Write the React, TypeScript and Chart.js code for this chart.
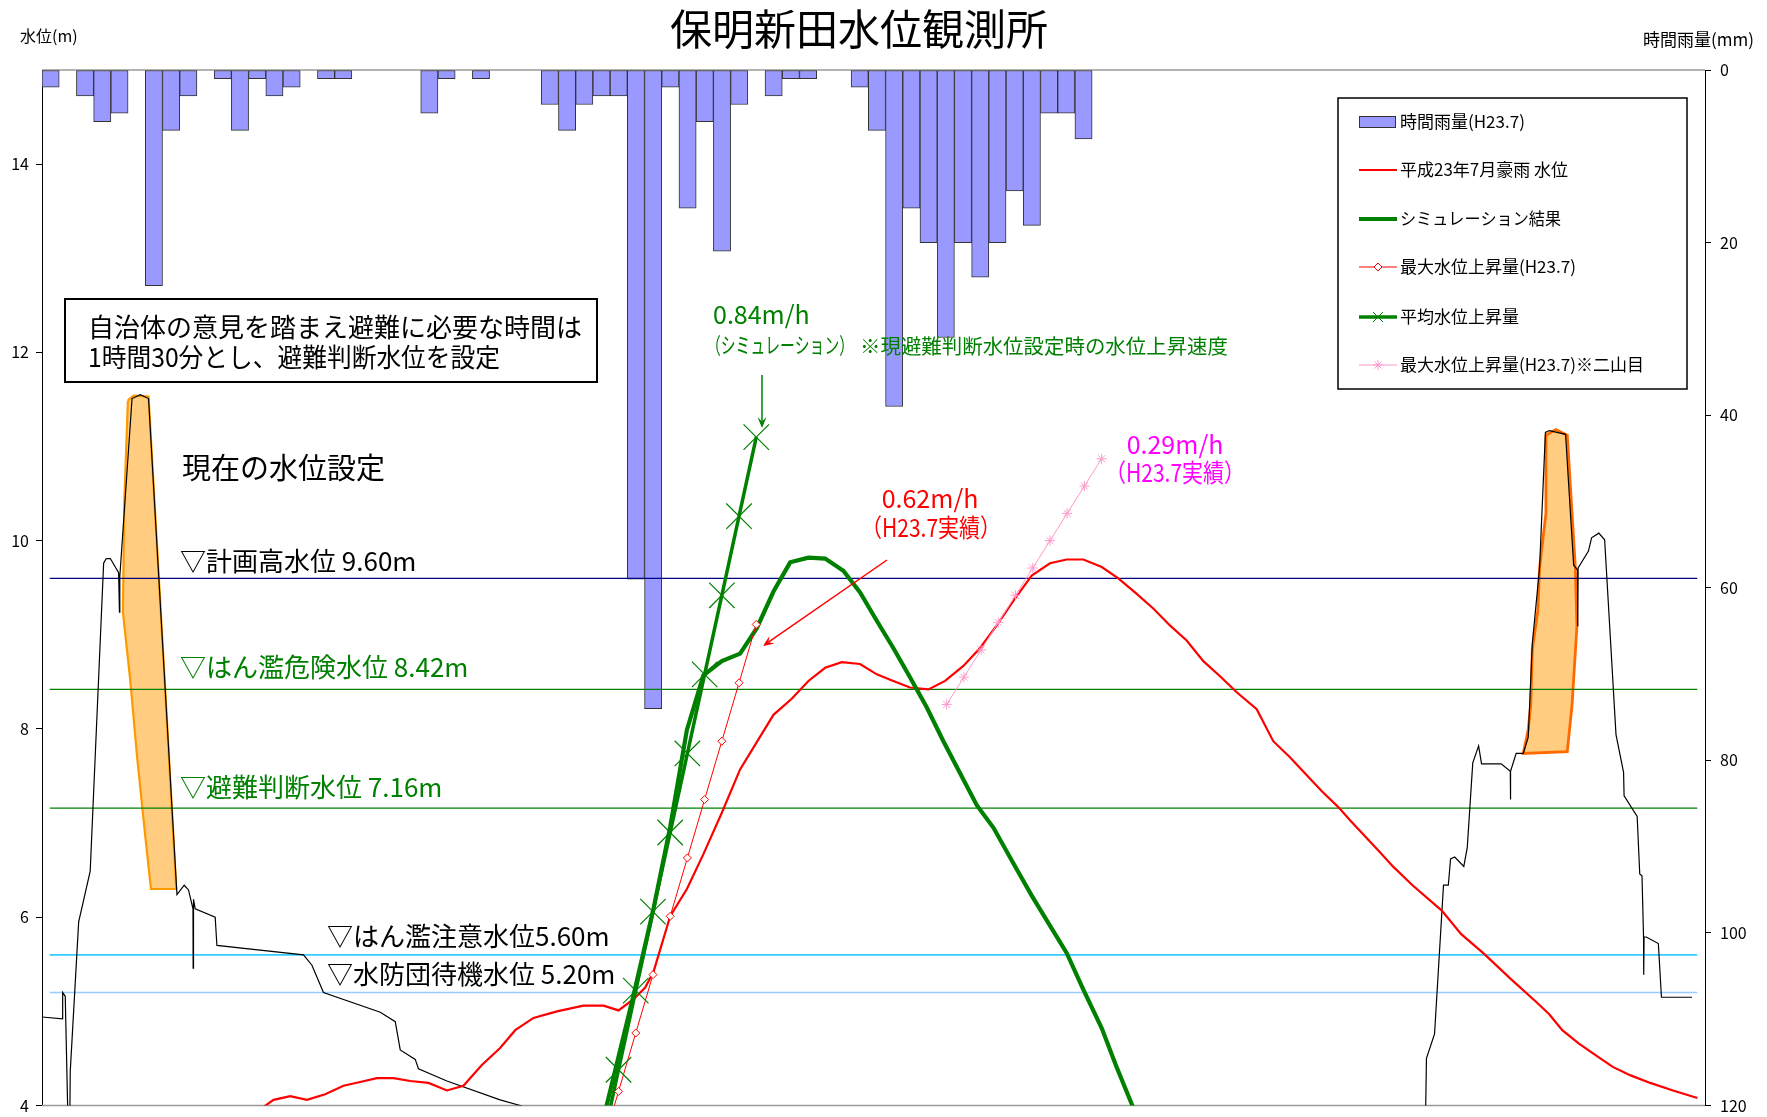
import React, { useEffect, useRef } from 'react';
import { Chart, registerables } from 'chart.js';
import { drawPoint } from 'chart.js/helpers';

Chart.register(...registerables);

const FONT = '"Noto Sans CJK JP", "Noto Sans", sans-serif';

// ---------------- data ----------------
// hourly rainfall (mm), one value per hour slot
const rainfall = [2, 0, 3, 6, 5, 0, 25, 7, 3, 0, 1, 7, 1, 3, 2, 0, 1, 1, 0, 0, 0, 0, 5, 1, 0, 1, 0, 0, 0, 4,
  7, 4, 3, 3, 59, 74, 2, 16, 6, 21, 4, 0, 3, 1, 1, 0, 0, 2, 7, 39, 16, 20, 31, 20, 24, 20, 14, 18, 5, 5, 8];

// 平成23年7月豪雨 水位
const levelX = [12.29, 13.45, 14.42, 15.39, 16.45, 17.51, 18.48, 19.45, 20.42, 21.39, 22.45, 23.52, 24.48, 25.55, 26.61, 27.49, 28.55, 29.91, 31.45, 32.62, 33.49,
  34.36, 35.03, 35.52, 36.49, 37.46, 38.42, 39.49, 40.55, 41.52, 42.49, 43.55, 44.52, 45.49, 46.46, 47.52, 48.49, 49.45, 50.42, 51.49, 52.46,
  53.52, 54.49, 55.46, 56.42, 57.49, 58.55, 59.52, 60.49, 61.56, 62.52, 63.49, 64.55, 65.52, 66.49, 67.46, 68.43, 69.40, 70.56, 71.52, 72.49,
  73.36, 74.33, 75.30, 75.98, 77.72, 78.47, 79.61, 81.31, 82.44, 83.77, 85.28, 86.80, 87.55, 88.31, 89.26, 90.20, 91.24, 92.28, 93.42, 94.74, 96.16];
const levelY = [3.91, 4.06, 4.10, 4.06, 4.12, 4.21, 4.25, 4.29, 4.29, 4.26, 4.24, 4.16, 4.21, 4.43, 4.61, 4.80, 4.93, 5.00, 5.06, 5.06, 5.01,
  5.13, 5.25, 5.42, 6.01, 6.30, 6.67, 7.11, 7.57, 7.86, 8.15, 8.32, 8.51, 8.65, 8.71, 8.69, 8.58, 8.51, 8.44, 8.42, 8.51,
  8.67, 8.86, 9.10, 9.36, 9.63, 9.76, 9.80, 9.80, 9.72, 9.60, 9.45, 9.28, 9.10, 8.94, 8.72, 8.56, 8.39, 8.21, 7.87, 7.70,
  7.53, 7.34, 7.17, 7.03, 6.69, 6.54, 6.34, 6.07, 5.82, 5.61, 5.35, 5.10, 4.97, 4.80, 4.66, 4.54, 4.41, 4.32, 4.24, 4.16, 4.08];

// シミュレーション結果
const simX = [32.65, 34.36, 35.52, 36.49, 37.46, 38.42, 39.49, 40.55, 41.52, 42.49, 43.46, 44.52, 45.49, 46.55, 47.52, 48.49,
  49.45, 50.42, 51.39, 52.36, 53.33, 54.30, 55.27, 56.43, 57.49, 58.55, 59.52, 60.49, 61.56, 62.42, 63.58];
const simY = [3.89, 5.17, 6.09, 6.96, 7.99, 8.57, 8.72, 8.80, 9.07, 9.46, 9.77, 9.82, 9.81, 9.68, 9.45, 9.15,
  8.86, 8.55, 8.23, 7.87, 7.53, 7.19, 6.95, 6.57, 6.23, 5.91, 5.62, 5.23, 4.82, 4.41, 3.89];

// 平均水位上昇量 (0.84m/h)
const avgRiseX = [32.49, 33.49, 34.49, 35.49, 36.49, 37.49, 38.49, 39.49, 40.49, 41.49];
const avgRiseY = [3.54, 4.38, 5.22, 6.06, 6.90, 7.74, 8.58, 9.42, 10.26, 11.10];

// 最大水位上昇量(H23.7) (0.62m/h)
const maxRiseX = [32.49, 33.49, 34.49, 35.49, 36.49, 37.49, 38.49, 39.49, 40.49, 41.49];
const maxRiseY = [3.53, 4.15, 4.77, 5.39, 6.01, 6.63, 7.25, 7.87, 8.49, 9.11];

// 最大水位上昇量(H23.7)※二山目 (0.29m/h)
const maxRise2X = [52.55, 53.55, 54.55, 55.55, 56.55, 57.55, 58.55, 59.55, 60.55, 61.55];
const maxRise2Y = [8.26, 8.55, 8.84, 9.13, 9.42, 9.71, 10.00, 10.29, 10.58, 10.87];

// river cross-section profile (left / right)
const leftBankX = [0, 1.20, 1.20, 1.35, 1.50, 1.62, 1.64, 2.13, 2.80, 3.58, 3.73, 3.97, 4.45, 4.50, 4.52, 5.23, 5.71, 6.19, 7.84, 8.26, 8.51, 8.77, 8.78, 8.80,
  8.90, 10.06, 10.16, 15.19, 15.68, 16.35, 19.65, 20.52, 20.81, 21.68, 21.87, 23.52, 26.61, 27.78, 28.5];
const leftBankY = [4.94, 4.92, 5.20, 5.16, 3.9, 3.9, 4.36, 5.95, 6.49, 9.76, 9.81, 9.81, 9.66, 9.24, 9.62, 11.51, 11.55, 11.51, 6.24, 6.34, 6.29, 6.09, 5.46, 6.19,
  6.09, 6.00, 5.70, 5.60, 5.49, 5.20, 4.99, 4.89, 4.59, 4.49, 4.39, 4.26, 4.06, 4.00, 3.95];
const rightBankX = [80.37, 80.42, 80.89, 81.41, 81.69, 81.82, 82.06, 82.59, 82.79, 83.11, 83.45, 83.62, 84.76, 85.29, 85.30, 85.31, 85.63, 86.04, 86.33, 86.57,
  86.99, 87.33, 87.56, 88.50, 88.97, 89.20, 89.21, 89.23, 89.83, 90.01, 90.43, 90.77, 91.43, 91.87, 91.90, 92.66, 92.81, 92.94, 93.03, 93.04, 93.06,
  93.19, 93.89, 94.07, 95.85];
const rightBankY = [3.9, 4.50, 4.76, 6.34, 6.34, 6.62, 6.64, 6.54, 6.74, 7.64, 7.82, 7.63, 7.63, 7.55, 7.25, 7.55, 7.74, 7.74, 7.91, 8.91,
  9.71, 11.15, 11.17, 11.13, 9.74, 9.69, 9.09, 9.71, 9.89, 10.03, 10.08, 10.01, 7.94, 7.54, 7.29, 7.07, 6.46, 6.44, 5.79, 5.39, 5.79,
  5.79, 5.72, 5.15, 5.15];

// levee shapes (closed outlines)
const leftLeveeX = [4.99, 5.32, 6.19, 6.52, 7.16, 7.80, 6.33, 6.00, 5.52, 5.13, 4.70, 4.78, 4.99];
const leftLeveeY = [11.49, 11.54, 11.53, 10.46, 8.41, 6.30, 6.30, 6.86, 7.71, 8.51, 9.24, 10.41, 11.49];
const rightLeveeX = [87.36, 87.93, 88.60, 89.07, 89.16, 88.88, 88.60, 86.04, 86.33, 86.48, 86.57, 86.89, 86.99, 87.36, 87.36];
const rightLeveeY = [11.12, 11.18, 11.12, 9.71, 9.09, 8.26, 7.76, 7.74, 7.99, 8.26, 8.84, 9.26, 9.71, 10.29, 11.12];

// reference water levels
const refLevels = [9.6, 8.42, 7.16, 5.6, 5.2];
const refLabels = ['▽計画高水位 9.60m', '▽はん濫危険水位 8.42m', '▽避難判断水位 7.16m', '▽はん濫注意水位5.60m', '▽水防団待機水位 5.20m'];
const refSpan = [0.45, 96.15];

const levelTicks = [4, 6, 8, 10, 12, 14];
const rainTicks = [0, 20, 40, 60, 80, 100, 120];

const legendLabels = ['時間雨量(H23.7)', '平成23年7月豪雨 水位', 'シミュレーション結果', '最大水位上昇量(H23.7)', '平均水位上昇量', '最大水位上昇量(H23.7)※二山目'];

// ---------------- helpers ----------------
const pts = (xs: number[], ys: number[]) => xs.map((x, i) => ({ x, y: ys[i] }));

const refColors = ['#000080', '#008000', '#008000', '#33CCFF', '#99CCFF'];
const refWidths = [1.2, 1.2, 1.2, 1.6, 1.6];
const refLabelPos = [
  { x: 180, y: 561, c: '#000000', w: 245 },
  { x: 180, y: 667, c: '#008000', w: 296 },
  { x: 180, y: 787, c: '#008000', w: 270 },
  { x: 327, y: 936, c: '#000000', w: 288 },
  { x: 327, y: 974, c: '#000000', w: 298 },
];

function text(ctx: CanvasRenderingContext2D, s: string, x: number, y: number, size: number, color: string, align: CanvasTextAlign = 'left', maxW?: number) {
  ctx.save();
  ctx.font = `${size}px ${FONT}`;
  ctx.fillStyle = color;
  ctx.textAlign = align;
  ctx.textBaseline = 'middle';
  if (maxW) ctx.fillText(s, x, y, maxW); else ctx.fillText(s, x, y);
  ctx.restore();
}

function arrow(ctx: CanvasRenderingContext2D, x1: number, y1: number, x2: number, y2: number, color: string, w: number) {
  const a = Math.atan2(y2 - y1, x2 - x1);
  const hl = 11, hw = 4.5;
  ctx.save();
  ctx.strokeStyle = color;
  ctx.fillStyle = color;
  ctx.lineWidth = w;
  ctx.beginPath();
  ctx.moveTo(x1, y1);
  ctx.lineTo(x2 - Math.cos(a) * hl * 0.6, y2 - Math.sin(a) * hl * 0.6);
  ctx.stroke();
  ctx.beginPath();
  ctx.moveTo(x2, y2);
  ctx.lineTo(x2 - Math.cos(a) * hl - Math.sin(a) * hw, y2 - Math.sin(a) * hl + Math.cos(a) * hw);
  ctx.lineTo(x2 - Math.cos(a) * hl * 0.6, y2 - Math.sin(a) * hl * 0.6);
  ctx.lineTo(x2 - Math.cos(a) * hl + Math.sin(a) * hw, y2 - Math.sin(a) * hl - Math.cos(a) * hw);
  ctx.closePath();
  ctx.fill();
  ctx.restore();
}

const framePlugin = {
  id: 'frame',
  beforeDatasetsDraw(chart: any) {
    const { ctx, chartArea: a } = chart;
    ctx.save();
    ctx.strokeStyle = '#9A9A9A';
    ctx.lineWidth = 1.5;
    ctx.beginPath();
    ctx.moveTo(a.left, a.top);
    ctx.lineTo(a.right, a.top);
    ctx.moveTo(a.left, a.bottom);
    ctx.lineTo(a.right, a.bottom);
    ctx.stroke();
    ctx.restore();
  },
  afterDraw(chart: any) {
    const ctx: CanvasRenderingContext2D = chart.ctx;
    // title & axis titles
    text(ctx, '保明新田水位観測所', 859, 29, 42, '#000', 'center');
    text(ctx, '水位(m)', 20, 36, 16, '#000', 'left', 62);
    text(ctx, '時間雨量(mm)', 1643, 40, 17, '#000', 'left', 114);

    // info box
    ctx.save();
    ctx.fillStyle = '#fff';
    ctx.fillRect(65, 299, 532, 83);
    ctx.strokeStyle = '#000';
    ctx.lineWidth = 2;
    ctx.strokeRect(65, 299, 532, 83);
    ctx.restore();
    text(ctx, '自治体の意見を踏まえ避難に必要な時間は', 88, 327, 26, '#000', 'left', 497);
    text(ctx, '1時間30分とし、避難判断水位を設定', 88, 357, 26, '#000', 'left', 412);

    text(ctx, '現在の水位設定', 182, 468, 29, '#000', 'left', 214);

    refLabels.forEach((s, i) => {
      const p = refLabelPos[i];
      text(ctx, s, p.x, p.y, 26, p.c, 'left', p.w);
    });

    // rise-rate annotations
    text(ctx, '0.84m/h', 713, 314, 25, '#008000', 'left');
    text(ctx, '（シミュレーション）', 706, 345, 22, '#008000', 'left', 148);
    text(ctx, '※現避難判断水位設定時の水位上昇速度', 860, 346, 20.5, '#008000', 'left', 368);
    arrow(ctx, 762, 375, 762, 428, '#008000', 1.5);

    text(ctx, '0.62m/h', 930, 498, 25, '#FF0000', 'center');
    text(ctx, '（H23.7実績）', 931, 527, 25, '#FF0000', 'center', 140);
    arrow(ctx, 887, 560, 763, 646, '#FF0000', 1.5);

    text(ctx, '0.29m/h', 1175, 444, 25, '#FF00FF', 'center');
    text(ctx, '（H23.7実績）', 1175, 472, 25, '#FF00FF', 'center', 140);

    // legend
    const lx = 1338, ly = 98, lw = 349, lh = 291;
    ctx.save();
    ctx.fillStyle = '#fff';
    ctx.fillRect(lx, ly, lw, lh);
    ctx.strokeStyle = '#000';
    ctx.lineWidth = 1.5;
    ctx.strokeRect(lx, ly, lw, lh);
    ctx.restore();
    const rowsY = [122, 170, 219, 267, 317, 365];
    const mx1 = 1359, mx2 = 1397, mc = 1378;
    const line = (y: number, color: string, w: number) => {
      ctx.save();
      ctx.strokeStyle = color;
      ctx.lineWidth = w;
      ctx.beginPath();
      ctx.moveTo(mx1, y);
      ctx.lineTo(mx2, y);
      ctx.stroke();
      ctx.restore();
    };
    // bar swatch
    ctx.save();
    ctx.fillStyle = '#9999FF';
    ctx.fillRect(mx1, rowsY[0] - 6, 36, 12);
    ctx.strokeStyle = '#333';
    ctx.lineWidth = 1;
    ctx.strokeRect(mx1 + 0.5, rowsY[0] - 5.5, 36, 11);
    ctx.restore();
    line(rowsY[1], '#FF0000', 2);
    line(rowsY[2], '#008000', 4);
    line(rowsY[3], '#FF0000', 1);
    ctx.save();
    ctx.strokeStyle = '#FF0000';
    ctx.fillStyle = '#FFFFFF';
    drawPoint(ctx, { pointStyle: 'rectRot', radius: 4, borderWidth: 1, rotation: 0 } as any, mc, rowsY[3]);
    ctx.restore();
    line(rowsY[4], '#008000', 3.5);
    ctx.save();
    ctx.strokeStyle = '#008000';
    ctx.fillStyle = '#008000';
    drawPoint(ctx, { pointStyle: 'crossRot', radius: 7, borderWidth: 1.2, rotation: 0 } as any, mc, rowsY[4]);
    ctx.restore();
    line(rowsY[5], '#FF99CC', 1);
    ctx.save();
    ctx.strokeStyle = '#FF99CC';
    ctx.fillStyle = '#FF99CC';
    drawPoint(ctx, { pointStyle: 'star', radius: 5, borderWidth: 1, rotation: 0 } as any, mc, rowsY[5]);
    ctx.restore();
    const legW = [136, 184, 161, 192, 133, 270];
    legendLabels.forEach((s, i) => text(ctx, s, 1400, rowsY[i], 17, '#000', 'left', legW[i]));
  },
};

export default function App() {
  const ref = useRef<HTMLCanvasElement>(null);
  useEffect(() => {
    document.body.style.margin = '0';
    const lineBase = { type: 'line' as const, xAxisID: 'x', yAxisID: 'y', tension: 0, pointRadius: 0, fill: false };
    const datasets: any[] = [
      { ...lineBase, label: legendLabels[5], data: pts(maxRise2X, maxRise2Y), borderColor: '#FF99CC', borderWidth: 1,
        pointRadius: 5, pointStyle: 'star', pointBorderColor: '#FF99CC', pointBorderWidth: 1, order: 1 },
      { ...lineBase, label: legendLabels[3], data: pts(maxRiseX, maxRiseY), borderColor: '#FF0000', borderWidth: 1,
        pointRadius: 4, pointStyle: 'rectRot', pointBorderColor: '#FF0000', pointBackgroundColor: '#FFFFFF', pointBorderWidth: 1, order: 2 },
      { ...lineBase, label: legendLabels[4], data: pts(avgRiseX, avgRiseY), borderColor: '#008000', borderWidth: 3.5,
        pointRadius: 18, pointStyle: 'crossRot', pointBorderColor: '#008000', pointBorderWidth: 1.2, order: 3 },
      { ...lineBase, label: legendLabels[2], data: pts(simX, simY), borderColor: '#008000', borderWidth: 4.2, order: 4 },
      { ...lineBase, label: legendLabels[1], data: pts(levelX, levelY), borderColor: '#FF0000', borderWidth: 2.2, order: 5 },
      { ...lineBase, label: 'left bank', data: pts(leftBankX, leftBankY), borderColor: '#000000', borderWidth: 1.2, order: 6 },
      { ...lineBase, label: 'right bank', data: pts(rightBankX, rightBankY), borderColor: '#000000', borderWidth: 1.2, order: 6 },
      ...refLevels.map((v, i) => ({ ...lineBase, label: refLabels[i], data: pts(refSpan, [v, v]), borderColor: refColors[i], borderWidth: refWidths[i], order: 7 })),
      { ...lineBase, label: 'left levee', data: pts(leftLeveeX, leftLeveeY), borderColor: '#FF9900', backgroundColor: '#FFCC80', borderWidth: 2.2, fill: 'shape', order: 8 },
      { ...lineBase, label: 'right levee', data: pts(rightLeveeX, rightLeveeY), borderColor: '#FF6A00', backgroundColor: '#FFCC80', borderWidth: 2.8, fill: 'shape', order: 8 },
      { type: 'bar', label: legendLabels[0], xAxisID: 'x', yAxisID: 'y2',
        data: rainfall.map((v, i) => ({ x: i + 0.5, y: v === 0 ? null : v })),
        backgroundColor: '#9999FF', borderColor: '#333333', borderWidth: 1, borderSkipped: false,
        categoryPercentage: 1, barPercentage: 1, grouped: false, order: 9 },
    ];
    const tickFont = { family: FONT, size: 16 };
    const fitY = (w: number) => (s: any) => { s.width = w; s.paddingTop = 0; s.paddingBottom = 0; };
    const chart = new Chart(ref.current!, {
      type: 'line',
      data: { datasets },
      options: {
        responsive: false,
        animation: false,
        devicePixelRatio: 1,
        events: [],
        layout: { autoPadding: false, padding: { top: 70, bottom: 11.5, left: 0, right: 0 } },
        plugins: { legend: { display: false }, title: { display: false }, tooltip: { enabled: false } },
        scales: {
          x: { type: 'linear', min: 0, max: 96.6, display: false, offset: false },
          y: {
            type: 'linear', position: 'left', min: 4, max: 15,
            afterBuildTicks: (s: any) => { s.ticks = levelTicks.map((v) => ({ value: v })); },
            afterFit: fitY(42),
            grid: { drawOnChartArea: false, drawTicks: true, tickLength: 6, color: '#000' },
            border: { color: '#000', width: 1 },
            ticks: { color: '#000', font: tickFont, padding: 7 },
          },
          y2: {
            type: 'linear', position: 'right', min: 0, max: 120, reverse: true,
            afterBuildTicks: (s: any) => { s.ticks = rainTicks.map((v) => ({ value: v })); },
            afterFit: fitY(62),
            grid: { drawOnChartArea: false, drawTicks: true, tickLength: 6, color: '#000' },
            border: { color: '#000', width: 1 },
            ticks: { color: '#000', font: tickFont, padding: 9 },
          },
        },
      } as any,
      plugins: [framePlugin],
    });
    return () => chart.destroy();
  }, []);
  return (
    <div style={{ position: 'absolute', left: 0, top: 0, width: 1767, height: 1117, background: '#fff' }}>
      <canvas ref={ref} width={1767} height={1117} style={{ display: 'block', width: 1767, height: 1117 }} />
    </div>
  );
}
